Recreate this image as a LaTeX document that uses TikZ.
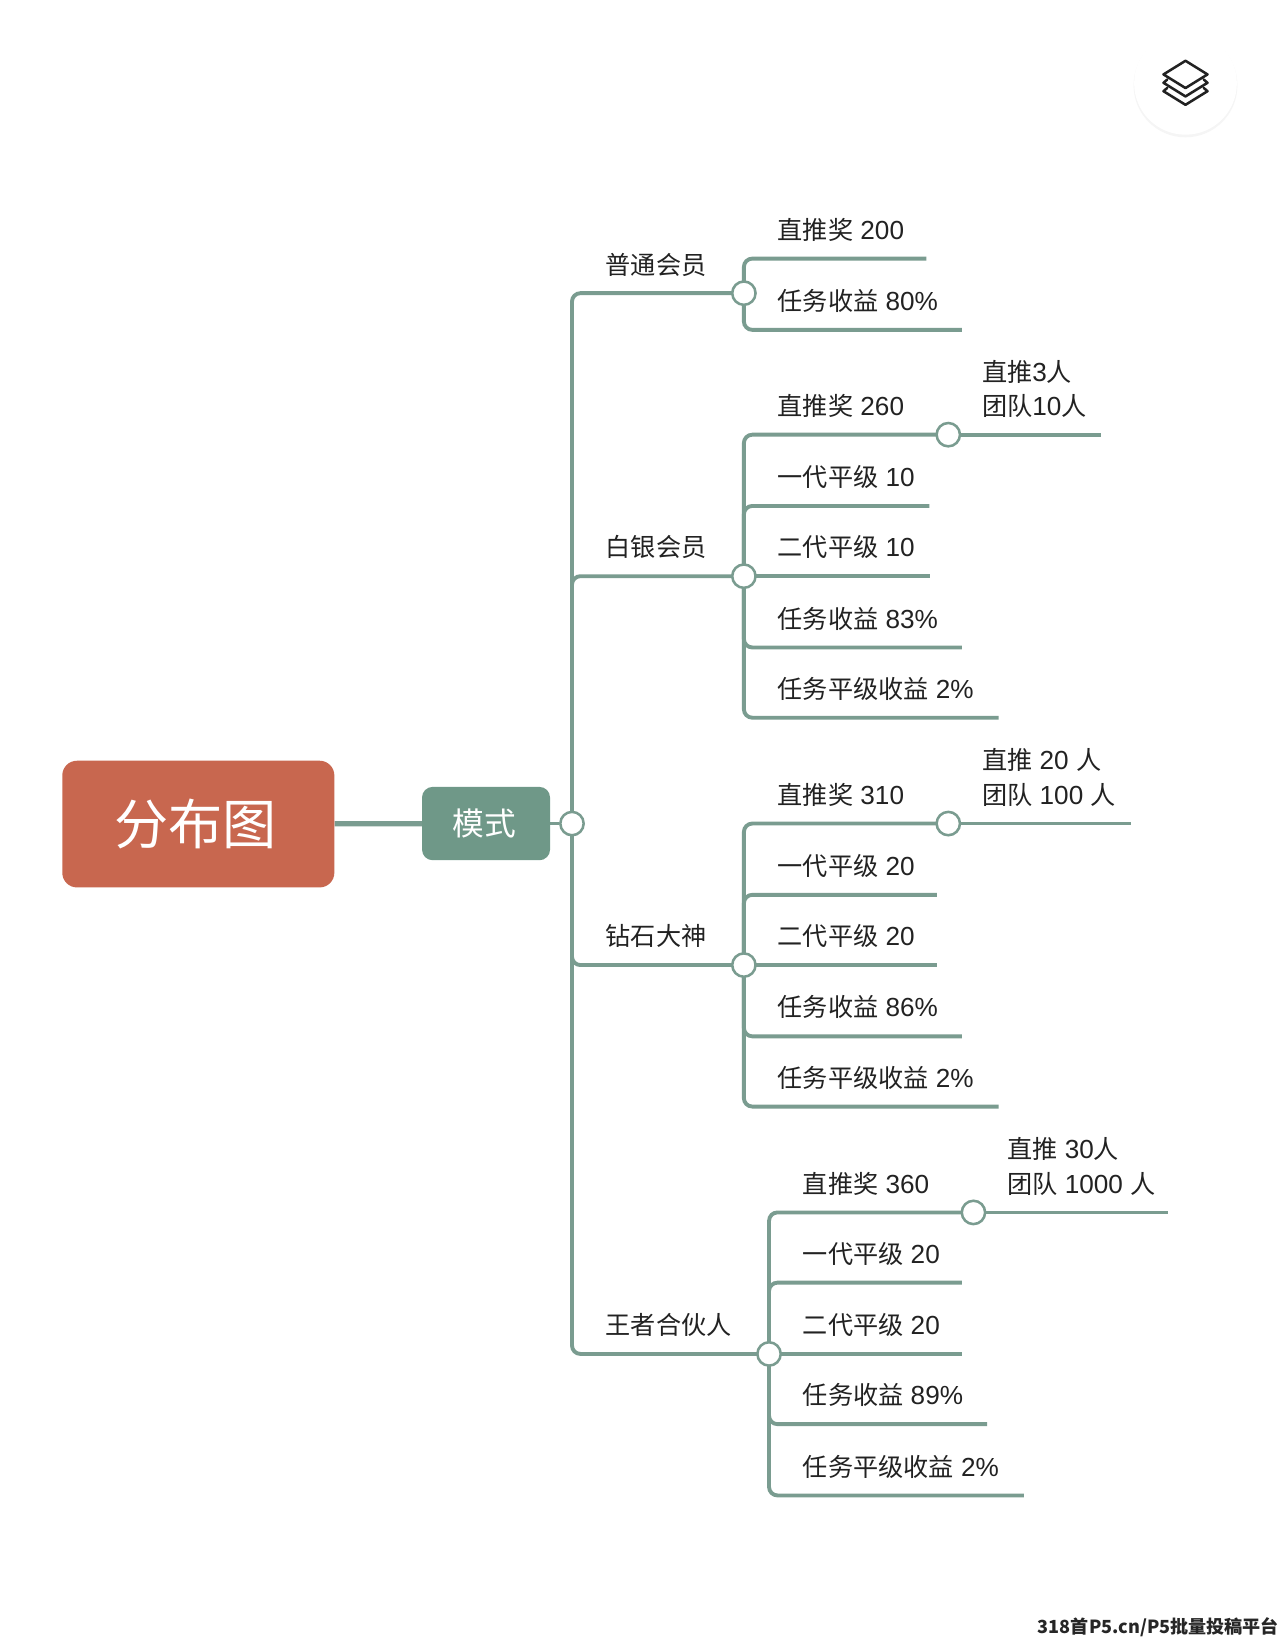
\documentclass[tikz,border=0pt]{standalone}
\usepackage{fontspec}
\setmainfont[Scale=1.04]{Liberation Sans}
\newfontfamily\cj{Noto Sans CJK SC}
\newcommand{\zh}[1]{{\cj #1}}
\usetikzlibrary{backgrounds}
\definecolor{linec}{HTML}{7A9C90}
\definecolor{modec}{HTML}{6F9888}
\definecolor{rootc}{HTML}{C8674F}
\definecolor{inkc}{HTML}{222222}
\tikzset{
  x=0.786pt,y=-0.786pt,
  conn/.style={draw=linec,line width=2.9pt,rounded corners=6.3pt},
  thickconn/.style={draw=linec,line width=3.9pt},
  hubdot/.style={circle,draw=linec,fill=white,line width=1.9pt,minimum size=17.5pt,inner sep=0pt},
  lab/.style={anchor=base west,inner sep=0pt,text=inkc,font=\fontsize{18.86}{25.9}\selectfont},
  twolab/.style={anchor=south west,inner sep=0pt,text=inkc,align=left,font=\fontsize{18.86}{25.9}\selectfont},
  rootbox/.style={rectangle,rounded corners=11pt,fill=rootc,text=white,inner sep=0pt,minimum width=204pt,minimum height=95pt,font=\fontsize{40.6}{48}\selectfont},
  modebox/.style={rectangle,rounded corners=8pt,fill=modec,text=white,inner sep=0pt,minimum width=96pt,minimum height=55pt,font=\fontsize{23.8}{28}\selectfont},
}
\begin{document}
\begin{tikzpicture}
\useasboundingbox (0,0) rectangle (1225,1569.4);
\begin{scope}[shift={(0.7,0.7)}]
% main nodes
\node[rootbox] (root) at (188.5,785.5) {\raisebox{-0.8pt}{\hspace*{-4pt}\zh{分布图}}};
\node[modebox] (mode) at (463,785) {\raisebox{-2.2pt}{\hspace*{-3pt}\zh{模式}}};
\node[hubdot] (hm) at (545,785) {};
% level-1 hubs
\node[hubdot] (h1) at (709,279) {};
\node[hubdot] (h2) at (709,549) {};
\node[hubdot] (h3) at (709,920) {};
\node[hubdot] (h4) at (733,1291) {};
% sub hubs
\node[hubdot] (s2) at (904,414) {};
\node[hubdot] (s3) at (904,785) {};
\node[hubdot] (s4) at (928,1156) {};
% leaf ends
\coordinate (e11) at (883,246);
\coordinate (e12) at (917,314);
\coordinate (e22) at (886,482);
\coordinate (e23) at (887,549);
\coordinate (e24) at (917,617);
\coordinate (e25) at (952,684);
\coordinate (e2s) at (1050,414);
\coordinate (e32) at (893,853);
\coordinate (e33) at (893,920);
\coordinate (e34) at (917,988);
\coordinate (e35) at (952,1055);
\coordinate (e3s) at (1078,785);
\coordinate (e42) at (917,1223);
\coordinate (e43) at (917,1291);
\coordinate (e44) at (941,1358);
\coordinate (e45) at (976,1426);
\coordinate (e4s) at (1114,1156);
\begin{pgfonlayer}{background}
  \fill[white] (-2,-2) rectangle (1230,1575);
  \draw[thickconn] (root) -- (mode);
  \draw[conn] (mode) -- (hm);
  \draw[conn] (hm.center) |- (h1.center);
  \draw[conn] (hm.center) |- (h2.center);
  \draw[conn] (hm.center) |- (h3.center);
  \draw[conn] (hm.center) |- (h4.center);
  \draw[conn] (h1.center) |- (e11);
  \draw[conn] (h1.center) |- (e12);
  \draw[conn] (h2.center) |- (s2.center);
  \draw[conn] (s2.center) -- (e2s);
  \draw[conn] (h2.center) |- (e22);
  \draw[conn] (h2.center) -- (e23);
  \draw[conn] (h2.center) |- (e24);
  \draw[conn] (h2.center) |- (e25);
  \draw[conn] (h3.center) |- (s3.center);
  \draw[conn] (s3.center) -- (e3s);
  \draw[conn] (h3.center) |- (e32);
  \draw[conn] (h3.center) -- (e33);
  \draw[conn] (h3.center) |- (e34);
  \draw[conn] (h3.center) |- (e35);
  \draw[conn] (h4.center) |- (s4.center);
  \draw[conn] (s4.center) -- (e4s);
  \draw[conn] (h4.center) |- (e42);
  \draw[conn] (h4.center) -- (e43);
  \draw[conn] (h4.center) |- (e44);
  \draw[conn] (h4.center) |- (e45);
\end{pgfonlayer}
% level-1 labels
\node[lab] (t1) at (577,261.5) {\zh{普通会员}};
\node[lab] (t2) at (577,530.5) {\zh{白银会员}};
\node[lab] (t3) at (577,901.5) {\zh{钻石大神}};
\node[lab] (t4) at (577,1272.5) {\zh{王者合伙人}};
% branch 1
\node[lab] (t11) at (741,227.5) {\zh{直推奖} 200};
\node[lab] (t12) at (741,295.5) {\zh{任务收益} 80\%};
% branch 2
\node[lab] (t21) at (741,395.5) {\zh{直推奖} 260};
\node[lab] (t22) at (741,463.5) {\zh{一代平级} 10};
\node[lab] (t23) at (741,530.5) {\zh{二代平级} 10};
\node[lab] (t24) at (741,598.5) {\zh{任务收益} 83\%};
\node[lab] (t25) at (741,665.5) {\zh{任务平级收益} 2\%};
\node[twolab] (t2s) at (936,398) {\zh{直推}3\zh{人}\\\zh{团队}10\zh{人}};
% branch 3
\node[lab] (t31) at (741,766.5) {\zh{直推奖} 310};
\node[lab] (t32) at (741,834.5) {\zh{一代平级} 20};
\node[lab] (t33) at (741,901.5) {\zh{二代平级} 20};
\node[lab] (t34) at (741,969.5) {\zh{任务收益} 86\%};
\node[lab] (t35) at (741,1036.5) {\zh{任务平级收益} 2\%};
\node[twolab] (t3s) at (936,769) {\zh{直推} 20 \zh{人}\\\zh{团队} 100 \zh{人}};
% branch 4
\node[lab] (t41) at (765,1137.5) {\zh{直推奖} 360};
\node[lab] (t42) at (765,1204.5) {\zh{一代平级} 20};
\node[lab] (t43) at (765,1272.5) {\zh{二代平级} 20};
\node[lab] (t44) at (765,1339.5) {\zh{任务收益} 89\%};
\node[lab] (t45) at (765,1407.5) {\zh{任务平级收益} 2\%};
\node[twolab] (t4s) at (960,1140) {\zh{直推} 30\zh{人}\\\zh{团队} 1000 \zh{人}};
\end{scope}
% layers icon button
\fill[black!4] (1131,81.5) circle[radius=49.5];
\fill[white] (1131,79.5) circle[radius=49];
\draw[inkc,line width=1.9pt,line join=round,line cap=round]
  (1131,58) -- (1152,71) -- (1131,84) -- (1110,71) -- cycle
  (1113.5,76) -- (1110,79) -- (1131,92) -- (1152,79) -- (1148.5,76)
  (1113.5,84) -- (1110,87) -- (1131,100) -- (1152,87) -- (1148.5,84);
% watermark
\node[anchor=base west,inner sep=0pt,text=black!85,font=\fontsize{13.55}{16}\selectfont\cj\bfseries] (wm) at (990,1558) {318首P5.cn/P5批量投稿平台};
\end{tikzpicture}
\end{document}
